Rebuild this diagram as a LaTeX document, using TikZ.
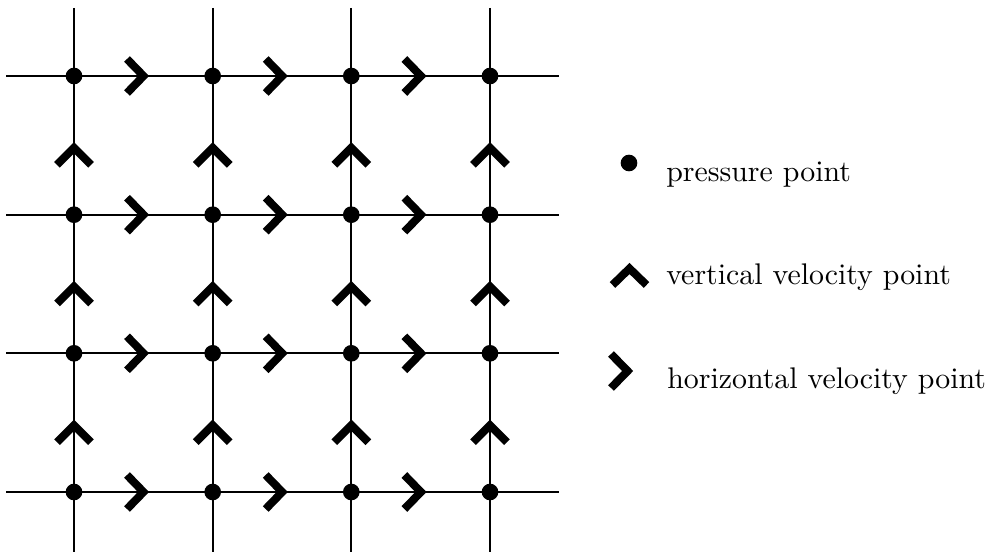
\documentclass[tikz,border=0pt]{standalone}
\begin{document}
\begin{tikzpicture}[x=0.75pt,y=-0.75pt,
  gridline/.style={line width=1.45pt,black},
  pdot/.style={circle,fill=black,inner sep=0pt,minimum size=12.5pt},
  chev/.style={line width=6pt,black,miter limit=10},
  legtext/.style={anchor=base west,inner sep=0pt}]
\useasboundingbox (0,0) rectangle (998,559);
% grid coordinates
\foreach \i/\x in {0/74,1/212.7,2/351.3,3/490}{
  \coordinate (vt\i) at (\x,8);
  \coordinate (vb\i) at (\x,552);
}
\foreach \j/\y in {0/76,1/214.7,2/353.3,3/492}{
  \coordinate (hl\j) at (6,\y);
  \coordinate (hr\j) at (559,\y);
}
\foreach \i in {0,...,3}{\draw[gridline] (vt\i) -- (vb\i);}
\foreach \j in {0,...,3}{\draw[gridline] (hl\j) -- (hr\j);}
% pressure points
\foreach \i/\x in {0/74,1/212.7,2/351.3,3/490}{
  \foreach \j/\y in {0/76,1/214.7,2/353.3,3/492}{
    \node[pdot] (p\i\j) at (\x,\y) {};
  }
}
% horizontal velocity chevrons
\foreach \j/\y in {0/76,1/214.7,2/353.3,3/492}{
  \foreach \x in {143.5,282.2,420.9}{
    \draw[chev] (\x-16.5,\y-17) -- (\x,\y) -- (\x-16.5,\y+17);
  }
}
% vertical velocity chevrons
\foreach \x in {74,212.7,351.3,490}{
  \foreach \y in {147.8,286.5,425.2}{
    \draw[chev] (\x-17,\y+17) -- (\x,\y) -- (\x+17,\y+17);
  }
}
% legend
\node[pdot] (legp) at (629,163) {};
\node[legtext] (tp) at (666,182) {\scalebox{2.24}{pressure point}};
\draw[chev] (612.5,285) -- (629.5,268.5) -- (646.5,285);
\node[legtext] (tv) at (666,285) {\scalebox{2.24}{vertical velocity point}};
\draw[chev] (611,354) -- (627.6,371) -- (611,388);
\node[legtext] (th) at (667,388) {\scalebox{2.24}{horizontal velocity point}};
\end{tikzpicture}
\end{document}
